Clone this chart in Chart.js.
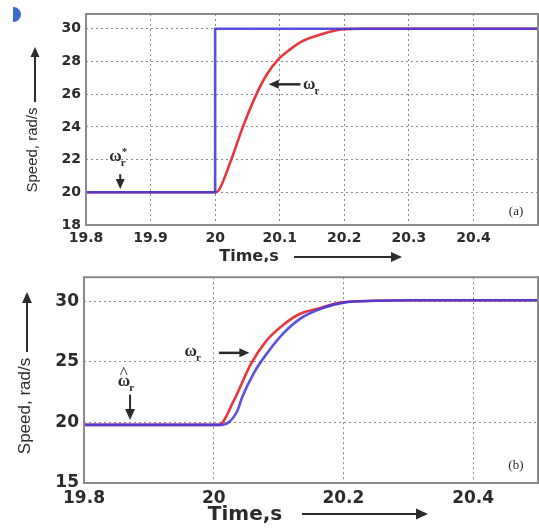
<!DOCTYPE html>
<html>
<head>
<meta charset="utf-8">
<script src="https://cdn.jsdelivr.net/npm/chart.js@4.4.1/dist/chart.umd.min.js"></script>
<style>
  html, body { margin: 0; padding: 0; background: #fff; }
  #wrap { position: relative; width: 539px; height: 529px; overflow: hidden; }
  #wrap canvas { position: absolute; left: 0; }
  #cA { top: 0; }
  #cB { top: 262px; }
  .dot { position: absolute; left: 6px; top: 7px; width: 15px; height: 15px; border-radius: 50%;
         background: #3d6ccc; clip-path: inset(0 0 0 7px); }
</style>
</head>
<body>
<div id="wrap">
  <div class="dot"></div>
  <canvas id="cA" width="539" height="262"></canvas>
  <canvas id="cB" width="539" height="267"></canvas>
</div>
<script>
// ---------- (a) step in speed command ----------
const xTicksA = [19.8, 19.9, 20.0, 20.1, 20.2, 20.3, 20.4];
const yTicksA = [18, 20, 22, 24, 26, 28, 30];

const refTimeA = [19.8, 20.0, 20.0, 20.5];
const refSpeedA = [20, 20, 30, 30];

const actTimeA = [19.8, 20.0, 20.006, 20.025, 20.043, 20.064, 20.08, 20.097, 20.115, 20.133, 20.164, 20.195, 20.23, 20.5];
const actSpeedA = [20, 20, 20.15, 22, 24, 26, 27.2, 28.1, 28.7, 29.2, 29.65, 29.95, 30, 30];

// ---------- (b) estimated vs actual ----------
const xTicksB = [19.8, 20.0, 20.2, 20.4];
const yTicksB = [15, 20, 25, 30];

const actTimeB = [19.8, 20.008, 20.031, 20.057, 20.082, 20.108, 20.134, 20.16, 20.196, 20.25, 20.3, 20.5];
const actSpeedB = [19.8, 19.8, 21.8, 24.8, 26.8, 28.1, 29.0, 29.4, 29.9, 30.05, 30.1, 30.1];

const estTimeB = [19.8, 20.013, 20.036, 20.044, 20.062, 20.082, 20.108, 20.134, 20.165, 20.2, 20.25, 20.3, 20.5];
const estSpeedB = [19.8, 19.8, 20.9, 22.1, 24.1, 25.7, 27.4, 28.6, 29.4, 29.9, 30.05, 30.1, 30.1];

const BLUE = "rgba(68,58,220,0.88)";
const RED = "#e8383f";
const INK = "#2b2b2b";

const pts = (xs, ys) => xs.map((x, i) => ({ x, y: ys[i] }));

function arrow(ctx, x1, y1, x2, y2, head, width) {
  const a = Math.atan2(y2 - y1, x2 - x1);
  ctx.save();
  ctx.strokeStyle = INK;
  ctx.fillStyle = INK;
  ctx.lineWidth = width || 2;
  ctx.beginPath();
  ctx.moveTo(x1, y1);
  ctx.lineTo(x2 - Math.cos(a) * head * 0.6, y2 - Math.sin(a) * head * 0.6);
  ctx.stroke();
  ctx.beginPath();
  ctx.moveTo(x2, y2);
  ctx.lineTo(x2 - head * Math.cos(a) + head * 0.45 * Math.sin(a), y2 - head * Math.sin(a) - head * 0.45 * Math.cos(a));
  ctx.lineTo(x2 - head * Math.cos(a) - head * 0.45 * Math.sin(a), y2 - head * Math.sin(a) + head * 0.45 * Math.cos(a));
  ctx.closePath();
  ctx.fill();
  ctx.restore();
}

// omega with subscript r, optional star / hat
function omega(ctx, x, y, size, mark) {
  ctx.save();
  ctx.fillStyle = INK;
  ctx.textBaseline = "alphabetic";
  ctx.textAlign = "left";
  ctx.font = `bold ${size}px "Liberation Serif", serif`;
  ctx.fillText("ω", x, y);
  const w = ctx.measureText("ω").width;
  ctx.font = `bold ${Math.round(size * 0.62)}px "Liberation Serif", serif`;
  ctx.fillText("r", x + w - 1, y + size * 0.28);
  if (mark === "star") ctx.fillText("*", x + w, y - size * 0.35);
  if (mark === "hat") {
    ctx.font = `${size}px "Liberation Serif", serif`;
    ctx.fillText("^", x + 2, y - size * 0.5);
  }
  ctx.restore();
}

function text(ctx, str, x, y, font, rot) {
  ctx.save();
  ctx.fillStyle = INK;
  ctx.font = font;
  ctx.textAlign = "center";
  ctx.textBaseline = "middle";
  ctx.translate(x, y);
  if (rot) ctx.rotate(rot);
  ctx.fillText(str, 0, 0);
  ctx.restore();
}

const decorate = {
  id: "decorate",
  afterDatasetsDraw(chart, args, opts) {
    const { ctx, chartArea: ca } = chart;
    ctx.save();
    ctx.strokeStyle = "#8a8a8a";
    ctx.lineWidth = 2;
    ctx.strokeRect(ca.left, ca.top, ca.right - ca.left, ca.bottom - ca.top);
    ctx.restore();
    opts.draw(ctx, chart.scales.x, chart.scales.y);
  },
};
Chart.register(decorate);

function makeChart(id, datasets, cfg) {
  return new Chart(document.getElementById(id), {
    type: "line",
    data: { datasets },
    options: {
      responsive: false,
      animation: false,
      layout: { padding: { top: cfg.top, right: 1, left: 0, bottom: 0 } },
      plugins: { legend: { display: false }, tooltip: { enabled: false }, decorate: { draw: cfg.draw } },
      elements: { point: { radius: 0 } },
      scales: {
        x: {
          type: "linear",
          min: 19.8,
          max: 20.5,
          afterBuildTicks: (s) => { s.ticks = cfg.xTicks.map((v) => ({ value: v })); },
          afterFit: (s) => { s.height = cfg.xHeight; },
          grid: { color: "#8c8c8c", lineWidth: 1, drawTicks: false },
          border: { display: false, dash: [2, 3] },
          ticks: { color: INK, padding: 5, maxRotation: 0, autoSkip: false,
                   font: { family: "DejaVu Sans", weight: "bold", size: cfg.tickSize },
                   callback: (v) => String(v) },
        },
        y: {
          min: cfg.yMin,
          max: cfg.yMax,
          afterBuildTicks: (s) => { s.ticks = cfg.yTicks.map((v) => ({ value: v })); },
          afterFit: (s) => { s.width = cfg.yWidth; },
          grid: { color: "#8c8c8c", lineWidth: 1, drawTicks: false },
          border: { display: false, dash: [2, 3] },
          ticks: { color: INK, padding: 5, autoSkip: false,
                   font: { family: "DejaVu Sans", weight: "bold", size: cfg.tickSize },
                   callback: (v) => String(v) },
        },
      },
    },
  });
}

makeChart("cA", [
  { data: pts(refTimeA, refSpeedA), borderColor: BLUE, borderWidth: 2.6, tension: 0, order: 0 },
  { data: pts(actTimeA, actSpeedA), borderColor: RED, borderWidth: 2.6, cubicInterpolationMode: "monotone", order: 1 },
], {
  top: 14, xHeight: 37, yWidth: 86, yMin: 18, yMax: 30.9, xTicks: xTicksA, yTicks: yTicksA, tickSize: 14,
  draw(ctx, x, y) {
    // axis titles
    text(ctx, "Speed, rad/s", 33, 150, '15px "Liberation Sans", Arial', -Math.PI / 2);
    arrow(ctx, 35, 102, 35, 47, 10, 2);
    text(ctx, "Time,s", 249, 257, 'bold 16px "DejaVu Sans"');
    arrow(ctx, 294, 257, 402, 257, 11, 2);
    // labels on the traces
    omega(ctx, x.getPixelForValue(19.836), y.getPixelForValue(21.9), 17, "star");
    arrow(ctx, x.getPixelForValue(19.853), y.getPixelForValue(21.1), x.getPixelForValue(19.853), y.getPixelForValue(20.2), 10, 2);
    arrow(ctx, x.getPixelForValue(20.132), y.getPixelForValue(26.6), x.getPixelForValue(20.083), y.getPixelForValue(26.6), 10, 2.5);
    omega(ctx, x.getPixelForValue(20.136), y.getPixelForValue(26.3), 17);
    text(ctx, "(a)", x.getPixelForValue(20.466), y.getPixelForValue(18.85), '13px "Liberation Serif", serif');
  },
});

makeChart("cB", [
  { data: pts(estTimeB, estSpeedB), borderColor: BLUE, borderWidth: 2.6, cubicInterpolationMode: "monotone", order: 0 },
  { data: pts(actTimeB, actSpeedB), borderColor: RED, borderWidth: 2.6, cubicInterpolationMode: "monotone", order: 1 },
], {
  top: 4, xHeight: 46, yWidth: 84, yMin: 15, yMax: 32, xTicks: xTicksB, yTicks: yTicksB, tickSize: 17,
  draw(ctx, x, y) {
    text(ctx, "Speed, rad/s", 25, 144, '17px "Liberation Sans", Arial', -Math.PI / 2);
    arrow(ctx, 27, 90, 27, 30, 11, 2);
    text(ctx, "Time,s", 245, 253, 'bold 20px "DejaVu Sans"');
    arrow(ctx, 302, 252, 428, 252, 12, 2);
    omega(ctx, x.getPixelForValue(19.852), y.getPixelForValue(23.0), 17, "hat");
    arrow(ctx, x.getPixelForValue(19.871), y.getPixelForValue(22.3), x.getPixelForValue(19.871), y.getPixelForValue(20.2), 11, 2);
    omega(ctx, x.getPixelForValue(19.955), y.getPixelForValue(25.5), 17);
    arrow(ctx, x.getPixelForValue(20.008), y.getPixelForValue(25.75), x.getPixelForValue(20.055), y.getPixelForValue(25.75), 10, 2.5);
    text(ctx, "(b)", x.getPixelForValue(20.466), y.getPixelForValue(16.4), '13px "Liberation Serif", serif');
  },
});
</script>
</body>
</html>
